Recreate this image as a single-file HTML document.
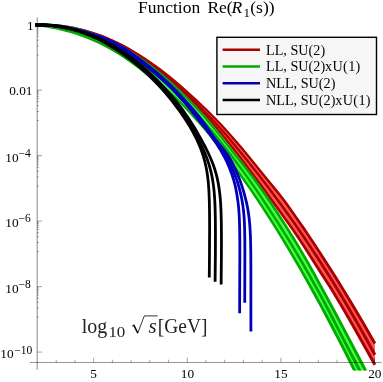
<!DOCTYPE html>
<html><head><meta charset="utf-8">
<style>
html,body{margin:0;padding:0;background:#fff;}
body{width:383px;height:382px;overflow:hidden;font-family:"Liberation Serif",serif;}
svg{display:block;}
text{font-family:"Liberation Serif",serif;fill:#000;}
</style></head><body>
<svg width="383" height="382" viewBox="0 0 383 382">
<rect width="383" height="382" fill="#fff"/>
<defs><filter id="nf" x="0" y="0" width="383" height="382" filterUnits="userSpaceOnUse" color-interpolation-filters="sRGB"><feOffset dx="0" dy="0"/></filter><clipPath id="c"><rect x="30" y="10" width="350" height="370.6" transform="translate(0,-10)"/></clipPath></defs>
<g clip-path="url(#c)" stroke-linejoin="round">
<path d="M35.20,25.05 L40.20,25.06 L45.20,25.21 L50.19,25.49 L55.68,25.94 L60.65,26.48 L65.60,27.18 L70.53,28.02 L75.43,29.00 L80.30,30.10 L85.62,31.43 L90.42,32.77 L95.65,34.40 L100.37,36.02 L105.50,37.94 L110.58,40.00 L115.60,42.21 L120.57,44.57 L125.47,47.11 L130.32,49.81 L135.54,52.91 L140.26,55.83 L145.34,59.10 L150.36,62.48 L155.71,66.24 L160.58,69.81 L165.78,73.78 L170.52,77.52 L175.58,81.68 L180.94,86.31 L191.07,95.39 L196.20,100.10 L201.26,104.84 L206.59,109.99 L211.41,114.76 L216.42,119.87 L221.31,125.00 L226.43,130.56 L231.21,135.88 L235.02,140.24 L241.76,148.16 L246.89,154.32 L252.30,160.92 L264.89,176.67 L274.70,188.64 L278.92,193.88 L282.40,198.33 L286.36,203.60 L291.90,211.35 L297.65,219.55 L303.32,227.80 L308.93,236.09 L314.47,244.42 L320.22,253.20 L326.17,262.44 L332.06,271.71 L337.89,281.03 L343.93,290.80 L350.14,301.03 L362.28,321.58 L374.90,343.61 L374.90,364.78 L366.55,349.69 L355.68,330.33 L342.06,306.72 L333.13,291.75 L329.12,285.34 L321.09,272.99 L304.58,247.13 L298.46,237.88 L293.03,229.89 L287.44,221.95 L281.48,213.63 L270.51,198.33 L264.82,190.54 L248.96,169.06 L243.86,162.26 L238.69,155.51 L233.77,149.21 L219.49,131.41 L214.69,125.61 L210.38,120.56 L205.53,115.11 L200.77,109.97 L195.94,104.85 L191.38,100.13 L186.40,95.09 L181.34,90.12 L176.56,85.58 L171.71,81.13 L166.78,76.78 L161.77,72.54 L158.24,69.69 L156.67,68.44 L151.89,64.78 L147.03,61.25 L142.51,58.14 L137.51,54.87 L132.85,52.00 L128.13,49.24 L123.34,46.61 L118.48,44.12 L113.55,41.75 L109.02,39.72 L103.97,37.62 L99.32,35.84 L94.16,34.03 L89.41,32.53 L84.62,31.19 L79.79,29.97 L74.93,28.85 L70.03,27.85 L65.10,27.01 L60.15,26.31 L55.18,25.77 L50.19,25.37 L45.20,25.09 L40.20,24.95 L35.20,24.95Z" fill="#ff5555" stroke="none"/>
<path d="M35.20,23.75 L40.22,23.76 L45.25,23.92 L50.28,24.21 L56.30,24.72 L61.30,25.29 L66.29,26.01 L71.25,26.88 L76.18,27.88 L81.08,29.01 L85.95,30.24 L90.80,31.60 L96.57,33.42 L101.32,35.07 L106.02,36.84 L110.68,38.74 L116.21,41.17 L120.75,43.33 L126.13,46.11 L130.51,48.56 L135.70,51.63 L140.82,54.80 L145.88,58.07 L150.88,61.43 L156.62,65.48 L161.47,69.05 L166.25,72.70 L170.98,76.43 L176.40,80.90 L181.71,85.50 L191.39,94.19 L197.30,99.62 L202.41,104.42 L207.46,109.29 L212.45,114.22 L217.36,119.23 L222.21,124.31 L226.97,129.45 L231.67,134.66 L235.63,139.19 L242.79,147.56 L247.92,153.71 L253.00,159.90 L265.52,175.51 L275.68,187.86 L280.09,193.32 L283.19,197.26 L287.43,202.87 L292.69,210.20 L298.46,218.38 L304.15,226.62 L309.78,234.90 L315.34,243.22 L321.40,252.42 L327.38,261.66 L333.29,270.95 L339.14,280.27 L344.93,289.64 L351.69,300.76 L363.41,320.57 L376.20,342.87 L373.60,344.36 L360.84,322.07 L349.16,302.27 L342.44,291.17 L336.66,281.82 L330.84,272.50 L324.96,263.21 L319.02,253.96 L313.02,244.76 L307.50,236.43 L301.92,228.15 L296.27,219.91 L290.55,211.72 L285.34,204.40 L281.17,198.83 L277.48,194.12 L273.74,189.44 L263.63,177.03 L251.16,161.40 L246.10,155.21 L241.00,149.07 L233.88,140.70 L229.95,136.20 L225.28,131.00 L220.55,125.86 L215.74,120.79 L210.86,115.80 L205.91,110.87 L199.44,104.65 L195.07,100.56 L189.91,95.85 L180.23,87.18 L174.95,82.63 L169.56,78.21 L164.86,74.51 L160.10,70.88 L155.27,67.35 L149.57,63.34 L144.60,60.02 L139.57,56.79 L134.48,53.66 L129.34,50.62 L124.99,48.20 L119.70,45.48 L115.21,43.35 L109.75,40.97 L105.14,39.10 L99.55,37.03 L94.85,35.44 L90.10,33.96 L85.32,32.63 L79.53,31.20 L74.68,30.12 L69.81,29.17 L64.91,28.36 L60.00,27.69 L55.06,27.17 L50.10,26.77 L45.14,26.49 L40.18,26.35 L35.20,26.35Z" fill="#aa0000" stroke="none"/>
<path d="M35.15,23.81 L39.15,23.64 L44.20,23.59 L49.24,23.70 L54.28,23.97 L59.30,24.41 L63.30,24.90 L68.29,25.65 L73.24,26.58 L78.16,27.65 L84.03,29.10 L88.89,30.44 L93.70,31.94 L97.50,33.25 L103.16,35.37 L107.81,37.28 L113.33,39.74 L117.86,41.94 L123.21,44.75 L127.58,47.24 L132.74,50.36 L137.82,53.60 L142.84,56.94 L147.78,60.38 L152.66,63.91 L158.27,68.13 L163.81,72.45 L169.26,76.87 L173.87,80.74 L179.17,85.35 L184.38,90.05 L189.52,94.83 L192.41,97.62 L195.28,100.43 L199.51,104.69 L205.11,110.42 L210.66,116.21 L215.43,121.34 L220.14,126.54 L225.45,132.55 L230.68,138.62 L235.84,144.74 L241.60,151.67 L247.29,158.66 L252.92,165.70 L258.48,172.79 L269.47,187.06 L274.90,194.25 L281.47,203.09 L287.37,211.17 L293.20,219.31 L298.95,227.51 L304.62,235.77 L310.20,244.08 L316.27,253.26 L322.82,263.34 L328.20,271.77 L334.05,281.10 L340.33,291.34 L346.01,300.78 L355.13,316.32 L358.13,321.52 L364.56,332.84 L369.92,342.45 L376.22,353.94 L373.58,355.38 L367.31,343.90 L361.96,334.29 L355.57,322.99 L352.57,317.80 L343.49,302.28 L337.84,292.86 L332.10,283.48 L325.77,273.31 L320.42,264.87 L313.93,254.79 L307.91,245.60 L302.37,237.28 L296.75,229.03 L291.05,220.83 L285.27,212.68 L279.41,204.59 L272.90,195.74 L267.51,188.55 L256.59,174.25 L251.06,167.17 L245.46,160.14 L239.79,153.16 L234.71,146.99 L228.93,140.11 L223.73,134.05 L218.46,128.05 L213.78,122.86 L209.03,117.74 L203.52,111.96 L197.94,106.24 L193.71,102.00 L190.86,99.21 L187.99,96.45 L182.87,91.70 L177.67,87.04 L172.40,82.47 L167.81,78.63 L162.38,74.24 L156.87,69.96 L151.29,65.78 L146.44,62.28 L141.53,58.88 L136.54,55.58 L131.50,52.38 L126.39,49.30 L122.06,46.84 L116.79,44.09 L112.31,41.93 L106.87,39.52 L102.27,37.64 L96.69,35.56 L92.92,34.28 L88.18,32.81 L83.40,31.49 L77.61,30.09 L72.76,29.04 L67.88,28.14 L62.98,27.41 L59.04,26.94 L54.10,26.52 L49.15,26.26 L44.20,26.17 L39.24,26.23 L35.25,26.40Z" fill="#aa0000" stroke="none"/>
<path d="M35.20,23.65 L40.22,23.65 L45.25,23.81 L50.28,24.09 L55.29,24.50 L60.30,25.05 L65.29,25.76 L70.26,26.62 L75.19,27.63 L80.09,28.76 L84.96,30.00 L89.81,31.37 L94.62,32.89 L99.36,34.56 L104.06,36.35 L109.64,38.67 L114.23,40.74 L118.76,42.92 L124.13,45.69 L128.53,48.11 L133.74,51.16 L138.01,53.80 L143.06,57.10 L148.02,60.53 L152.08,63.48 L156.87,67.14 L159.24,69.02 L162.36,71.55 L167.72,76.09 L172.23,80.07 L177.40,84.83 L182.48,89.67 L187.48,94.60 L192.41,99.59 L196.57,103.92 L201.39,109.02 L206.16,114.16 L211.50,120.16 L215.41,124.72 L220.53,130.90 L234.95,148.84 L239.89,155.15 L244.76,161.51 L250.18,168.71 L265.65,189.61 L271.57,197.68 L282.10,212.29 L288.52,221.23 L293.72,228.59 L299.38,236.86 L305.48,246.03 L322.22,272.13 L330.43,284.70 L334.15,290.65 L343.40,306.13 L356.92,329.52 L367.71,348.71 L376.21,364.05 L373.59,365.51 L365.11,350.16 L354.35,330.99 L340.88,307.61 L332.19,293.02 L327.99,286.25 L319.84,273.67 L303.21,247.52 L297.16,238.35 L291.56,230.10 L286.40,222.73 L280.02,213.78 L269.56,199.13 L263.69,191.05 L248.28,170.12 L243.49,163.72 L238.04,156.57 L233.13,150.27 L218.78,132.33 L213.70,126.17 L209.16,120.87 L204.52,115.66 L199.78,110.53 L194.98,105.45 L190.81,101.14 L185.90,96.18 L180.92,91.28 L175.86,86.48 L170.72,81.77 L166.23,77.81 L160.90,73.32 L157.80,70.81 L155.46,68.97 L150.71,65.35 L146.67,62.43 L141.76,59.04 L136.76,55.79 L132.52,53.18 L127.37,50.18 L123.00,47.79 L117.70,45.07 L113.21,42.92 L108.68,40.89 L103.17,38.62 L98.53,36.86 L93.84,35.22 L89.10,33.73 L84.32,32.39 L79.50,31.18 L74.66,30.08 L69.79,29.09 L64.90,28.25 L59.99,27.57 L55.05,27.04 L50.10,26.65 L45.14,26.38 L40.18,26.24 L35.20,26.25Z" fill="#aa0000" stroke="none"/>
<path d="M35.20,24.70 L40.20,24.62 L45.70,24.71 L50.69,24.96 L55.67,25.38 L60.64,25.96 L65.58,26.71 L70.99,27.71 L75.87,28.79 L80.72,30.02 L86.00,31.55 L90.75,33.09 L95.46,34.77 L100.58,36.78 L105.63,38.93 L110.62,41.24 L115.54,43.68 L120.40,46.26 L125.61,49.21 L130.32,52.04 L135.38,55.25 L140.36,58.59 L145.25,62.04 L150.47,65.91 L155.59,69.88 L160.25,73.65 L165.58,78.16 L170.45,82.44 L175.61,87.15 L180.68,91.96 L185.66,96.81 L190.56,101.73 L195.72,107.13 L200.79,112.68 L205.78,118.35 L210.70,124.12 L215.85,130.36 L220.93,136.65 L225.92,142.96 L233.37,152.45 L241.93,163.25 L247.92,170.94 L253.18,177.87 L255.28,180.74 L258.84,185.67 L264.08,193.10 L269.80,201.42 L273.17,206.43 L275.39,209.78 L280.82,218.19 L286.16,226.65 L291.70,235.57 L297.17,244.53 L301.55,251.81 L304.08,256.11 L308.04,262.99 L313.56,272.92 L335.94,314.30 L342.26,326.14 L348.30,337.58 L361.00,361.85 L374.90,388.68 L374.90,411.88 L362.23,385.88 L350.00,361.32 L344.13,349.76 L338.42,338.66 L332.64,327.59 L326.79,316.56 L321.11,306.00 L315.59,295.91 L310.00,285.85 L304.34,275.84 L298.86,266.29 L293.56,257.21 L287.94,247.75 L282.75,239.18 L277.24,230.22 L271.91,221.74 L266.79,213.72 L261.31,205.33 L256.04,197.41 L250.97,189.96 L245.54,182.14 L240.32,174.79 L235.32,167.90 L230.24,161.06 L225.09,154.29 L219.86,147.57 L214.85,141.32 L209.77,135.13 L204.61,129.01 L199.69,123.34 L194.36,117.37 L189.28,111.85 L184.11,106.41 L179.21,101.47 L174.22,96.66 L169.15,91.98 L163.99,87.42 L159.87,83.91 L154.17,79.36 L147.17,74.05 L139.22,67.94 L133.94,64.03 L128.98,60.52 L123.52,56.78 L118.84,53.68 L113.65,50.47 L108.39,47.52 L103.49,44.96 L98.09,42.32 L93.52,40.24 L87.99,37.90 L83.32,36.08 L77.19,33.89 L72.43,32.35 L67.14,30.81 L61.82,29.43 L56.45,28.21 L51.05,27.15 L46.12,26.33 L40.67,25.58 L35.20,25.00Z" fill="#44ff44" stroke="none"/>
<path d="M35.18,23.40 L40.20,23.32 L46.25,23.45 L51.29,23.73 L56.31,24.17 L61.31,24.78 L66.30,25.55 L71.24,26.48 L76.16,27.58 L81.05,28.82 L85.88,30.23 L90.67,31.77 L95.42,33.46 L101.05,35.65 L105.67,37.63 L111.16,40.16 L115.66,42.40 L121.00,45.23 L126.25,48.20 L130.55,50.80 L135.64,54.02 L140.65,57.38 L145.58,60.85 L151.23,65.03 L155.98,68.73 L160.67,72.52 L166.03,77.04 L171.31,81.69 L176.49,86.43 L181.57,91.26 L186.60,96.16 L191.54,101.15 L196.39,106.23 L201.80,112.15 L206.44,117.42 L211.65,123.52 L216.76,129.69 L221.80,135.92 L226.77,142.19 L242.90,162.59 L249.06,170.48 L253.91,176.86 L256.29,180.10 L259.81,184.97 L265.02,192.32 L270.71,200.56 L274.07,205.55 L276.30,208.88 L281.75,217.28 L287.11,225.74 L292.94,235.08 L298.17,243.61 L302.31,250.47 L305.38,255.64 L308.88,261.71 L314.76,272.21 L337.18,313.53 L343.78,325.88 L349.86,337.38 L362.38,361.31 L376.23,387.99 L373.57,389.37 L359.75,362.68 L347.26,338.75 L341.19,327.25 L334.61,314.91 L312.32,273.55 L306.50,263.07 L303.03,257.01 L300.00,251.85 L295.89,244.99 L290.70,236.46 L284.92,227.11 L279.60,218.66 L274.20,210.26 L272.00,206.93 L268.67,201.95 L263.03,193.71 L257.86,186.36 L254.36,181.50 L252.00,178.29 L247.18,171.92 L241.06,164.03 L224.98,143.61 L220.02,137.33 L215.01,131.11 L209.93,124.95 L204.76,118.87 L200.16,113.62 L194.77,107.74 L189.95,102.70 L185.02,97.75 L180.02,92.88 L174.95,88.08 L169.79,83.38 L164.55,78.78 L159.21,74.29 L154.56,70.54 L149.83,66.88 L144.22,62.74 L139.33,59.32 L134.36,56.01 L129.31,52.82 L125.04,50.26 L119.85,47.32 L114.58,44.54 L110.12,42.33 L104.70,39.86 L100.13,37.91 L94.58,35.76 L89.90,34.11 L85.17,32.60 L80.39,31.22 L75.59,30.01 L70.74,28.95 L64.89,27.88 L59.99,27.16 L55.06,26.61 L50.12,26.21 L45.17,25.99 L40.20,25.91 L35.22,26.00Z" fill="#00aa00" stroke="none"/>
<path d="M35.29,23.53 L41.30,23.96 L46.30,24.44 L52.30,25.21 L57.27,25.98 L62.22,26.89 L68.13,28.16 L73.01,29.36 L77.87,30.69 L83.65,32.47 L88.41,34.08 L94.07,36.19 L98.73,38.07 L104.27,40.50 L108.81,42.64 L114.20,45.36 L118.63,47.73 L123.87,50.72 L128.17,53.31 L133.26,56.54 L138.27,59.89 L143.20,63.36 L148.05,66.94 L153.61,71.24 L158.29,75.04 L163.65,79.57 L168.17,83.55 L173.35,88.29 L177.71,92.44 L182.72,97.36 L187.65,102.36 L193.17,108.18 L197.92,113.34 L203.25,119.33 L207.85,124.63 L213.02,130.76 L218.10,136.96 L223.09,143.23 L232.30,155.08 L237.77,162.24 L243.17,169.46 L248.49,176.74 L253.13,183.27 L258.82,191.51 L263.86,198.98 L269.39,207.33 L274.86,215.71 L280.28,224.12 L287.78,235.96 L290.95,241.06 L296.14,249.63 L303.73,262.59 L312.66,278.23 L318.51,288.73 L324.29,299.26 L328.07,306.32 L332.25,314.30 L342.74,334.78 L360.75,369.37 L376.23,399.38 L373.57,400.76 L358.11,370.73 L340.14,336.12 L329.68,315.64 L325.53,307.66 L321.78,300.61 L316.05,290.08 L310.25,279.59 L301.39,263.94 L293.86,250.98 L288.72,242.43 L285.05,236.48 L278.14,225.48 L272.76,217.07 L267.33,208.67 L261.85,200.32 L256.84,192.86 L251.18,184.63 L246.57,178.11 L241.29,170.85 L235.91,163.64 L230.47,156.49 L221.30,144.63 L216.33,138.38 L211.29,132.19 L206.16,126.07 L200.94,120.04 L196.28,114.83 L191.55,109.69 L186.05,103.92 L181.14,98.95 L176.15,94.07 L171.81,89.95 L166.65,85.25 L162.16,81.31 L156.83,76.82 L152.18,73.06 L146.66,68.81 L141.84,65.27 L136.95,61.84 L131.98,58.53 L126.94,55.34 L122.67,52.77 L117.48,49.83 L113.08,47.49 L107.76,44.82 L103.25,42.71 L97.79,40.33 L93.17,38.48 L87.59,36.41 L82.87,34.83 L77.18,33.09 L72.39,31.79 L67.55,30.62 L61.73,29.38 L56.84,28.49 L51.93,27.74 L46.02,27.00 L40.09,26.45 L35.11,26.12Z" fill="#00aa00" stroke="none"/>
<path d="M35.34,23.71 L41.33,24.37 L46.31,25.06 L51.28,25.89 L57.21,27.07 L62.11,28.19 L67.96,29.73 L72.78,31.15 L77.57,32.70 L83.25,34.73 L87.95,36.55 L94.43,39.31 L99.01,41.41 L104.42,44.07 L108.87,46.41 L114.14,49.37 L119.28,52.54 L124.31,55.87 L130.10,59.86 L135.00,63.35 L139.83,66.93 L147.76,73.04 L154.94,78.49 L161.20,83.54 L165.02,86.80 L170.27,91.47 L174.68,95.55 L179.74,100.42 L184.69,105.41 L190.22,111.23 L194.96,116.39 L200.30,122.37 L205.57,128.42 L210.74,134.55 L215.83,140.74 L220.84,146.99 L225.77,153.30 L231.24,160.47 L236.02,166.90 L241.33,174.19 L246.55,181.53 L251.70,188.92 L256.77,196.37 L262.34,204.70 L267.82,213.07 L273.23,221.50 L278.56,229.97 L283.83,238.48 L289.03,247.04 L294.67,256.49 L300.23,265.99 L305.73,275.53 L311.16,285.11 L317.01,295.60 L322.31,305.24 L328.02,315.81 L334.13,327.30 L339.69,337.94 L345.64,349.51 L351.08,360.21 L363.59,385.28 L376.25,411.22 L373.55,412.54 L360.93,386.59 L348.46,361.54 L343.03,350.84 L337.10,339.28 L331.55,328.65 L325.49,317.16 L319.82,306.60 L314.56,296.94 L308.76,286.45 L303.37,276.87 L297.91,267.33 L292.39,257.83 L286.80,248.37 L281.64,239.82 L276.42,231.30 L271.13,222.83 L265.76,214.40 L260.32,206.02 L254.80,197.71 L249.75,190.27 L244.63,182.88 L239.43,175.55 L234.16,168.27 L229.40,161.85 L223.96,154.70 L219.06,148.39 L214.08,142.15 L209.02,135.97 L203.88,129.86 L198.65,123.83 L193.33,117.88 L188.59,112.75 L183.09,106.97 L178.17,102.03 L173.14,97.20 L168.73,93.15 L163.51,88.52 L159.72,85.29 L153.52,80.31 L146.35,74.89 L138.42,68.81 L133.61,65.25 L128.73,61.79 L122.98,57.85 L117.99,54.57 L112.92,51.45 L107.72,48.54 L103.31,46.24 L97.95,43.62 L93.43,41.55 L87.03,38.85 L82.40,37.07 L76.77,35.07 L72.05,33.55 L66.33,31.90 L61.51,30.66 L56.66,29.56 L50.82,28.41 L45.93,27.60 L40.02,26.82 L35.06,26.29Z" fill="#00aa00" stroke="none"/>
<path d="M35.20,24.84 L40.70,24.92 L46.69,25.24 L51.68,25.67 L57.14,26.31 L62.58,27.14 L68.47,28.27 L73.83,29.51 L79.63,31.03 L84.88,32.59 L90.55,34.47 L96.15,36.60 L101.68,38.94 L107.12,41.46 L112.93,44.39 L118.20,47.25 L123.81,50.53 L128.90,53.71 L134.74,57.59 L140.04,61.35 L145.24,65.25 L150.73,69.61 L155.71,73.79 L160.97,78.42 L166.10,83.19 L171.11,88.09 L176.00,93.11 L180.09,97.52 L181.11,98.63 L185.75,103.92 L190.26,109.35 L194.96,115.24 L198.03,119.20 L204.08,126.53 L206.61,129.66 L208.46,132.07 L210.56,134.97 L213.79,139.61 L216.93,144.31 L219.68,148.64 L220.73,150.39 L222.53,153.47 L224.93,157.91 L226.89,161.97 L227.91,164.24 L228.90,166.52 L230.54,170.67 L232.05,174.87 L233.56,179.59 L234.63,183.41 L235.54,187.26 L236.41,191.63 L237.07,195.55 L237.66,199.48 L238.12,202.94 L238.55,206.91 L238.89,210.89 L239.16,214.87 L239.39,219.36 L239.68,229.35 L239.80,240.35 L239.83,254.85 L239.67,293.85 L239.64,313.30" fill="none" stroke="#0000bb" stroke-width="2.8"/>
<path d="M35.20,24.94 L40.70,24.96 L45.70,25.15 L51.19,25.53 L56.66,26.09 L62.11,26.83 L67.53,27.79 L72.91,28.94 L78.24,30.28 L84.00,31.92 L89.22,33.58 L94.85,35.58 L99.94,37.54 L105.43,39.79 L110.83,42.23 L113.49,43.58 L116.59,45.21 L121.82,48.21 L126.96,51.42 L132.44,55.07 L137.81,58.85 L143.09,62.73 L148.65,67.03 L153.71,71.15 L159.05,75.73 L164.27,80.46 L169.02,84.96 L174.02,89.92 L178.90,94.96 L184.00,100.46 L188.64,105.70 L193.48,111.43 L197.87,116.84 L202.06,122.12 L205.51,126.64 L208.90,131.30 L213.43,137.89 L219.20,145.93 L222.51,150.67 L225.60,155.47 L228.10,159.89 L230.53,164.82 L232.58,169.36 L234.30,173.49 L236.07,178.14 L237.52,182.37 L238.83,186.65 L240.00,190.97 L241.03,195.33 L241.82,199.24 L242.42,202.68 L243.01,206.63 L243.49,210.59 L243.87,214.57 L244.20,219.05 L244.43,223.54 L244.62,228.53 L244.81,239.02 L244.88,252.52 L244.73,302.80" fill="none" stroke="#0000bb" stroke-width="2.8"/>
<path d="M35.20,24.97 L41.20,24.97 L46.70,25.16 L52.69,25.57 L58.66,26.18 L64.11,26.95 L70.02,28.01 L75.89,29.29 L81.70,30.76 L86.97,32.27 L93.13,34.28 L98.73,36.29 L104.26,38.37 L109.71,40.64 L114.62,43.00 L117.27,44.42 L121.22,46.68 L127.24,50.52 L132.74,54.30 L138.53,58.48 L143.81,62.40 L149.77,67.06 L155.21,71.54 L160.53,76.13 L166.10,81.19 L171.55,86.38 L177.22,92.04 L182.40,97.46 L187.79,103.35 L192.72,108.97 L197.79,115.03 L202.33,120.92 L206.29,126.43 L212.78,135.82 L214.61,138.30 L216.53,140.80 L223.27,149.24 L225.90,152.67 L227.13,154.40 L229.18,157.43 L230.49,159.62 L231.93,162.25 L234.38,167.13 L236.43,171.63 L237.20,173.44 L238.51,176.63 L240.25,181.24 L241.71,185.43 L243.05,189.67 L244.30,193.96 L245.45,198.29 L246.51,202.65 L247.43,207.05 L248.13,210.99 L248.65,214.45 L249.15,218.41 L249.55,222.39 L249.91,226.87 L250.19,231.37 L250.40,235.86 L250.60,241.86 L250.80,253.35 L250.89,268.35 L250.90,331.60" fill="none" stroke="#0000bb" stroke-width="2.8"/>
<path d="M35.27,25.10 L39.77,24.99 L44.76,25.07 L49.26,25.33 L54.23,25.83 L58.69,26.46 L63.61,27.34 L68.49,28.43 L73.32,29.70 L78.11,31.16 L82.84,32.78 L87.51,34.57 L92.57,36.72 L97.11,38.82 L102.02,41.29 L106.85,43.92 L111.59,46.70 L116.26,49.62 L121.25,52.95 L126.13,56.43 L130.53,59.74 L135.22,63.48 L140.19,67.67 L144.68,71.65 L149.06,75.74 L153.70,80.30 L157.87,84.61 L162.28,89.39 L166.23,93.90 L170.40,98.90 L174.12,103.60 L178.02,108.80 L181.50,113.70 L184.05,117.43 L186.53,121.22 L188.68,124.63 L191.00,128.52 L192.97,132.03 L194.84,135.58 L196.61,139.18 L198.29,142.83 L199.66,146.06 L201.12,149.79 L202.30,153.09 L203.52,156.91 L204.48,160.28 L205.33,163.68 L206.08,167.10 L206.82,171.03 L207.29,173.99 L207.76,177.46 L208.15,180.94 L208.47,184.43 L208.76,188.41 L208.99,192.41 L209.35,201.90 L209.53,212.40 L209.61,226.40 L209.49,252.90 L209.28,277.60" fill="none" stroke="#000000" stroke-width="2.8"/>
<path d="M35.20,24.91 L40.20,24.89 L45.20,25.06 L49.69,25.37 L54.67,25.90 L59.62,26.61 L64.54,27.52 L69.43,28.60 L74.27,29.86 L79.07,31.27 L83.81,32.83 L88.49,34.55 L93.57,36.62 L98.12,38.67 L103.06,41.08 L107.90,43.66 L112.66,46.39 L117.33,49.27 L121.92,52.28 L126.82,55.71 L131.22,58.99 L135.92,62.69 L140.51,66.52 L145.00,70.48 L149.75,74.89 L154.03,79.07 L158.54,83.73 L162.61,88.12 L166.89,92.99 L171.06,97.97 L174.79,102.66 L178.71,107.84 L182.50,113.12 L185.33,117.25 L188.07,121.43 L190.45,125.25 L193.02,129.54 L195.24,133.45 L197.60,137.86 L199.66,141.88 L201.64,145.95 L203.32,149.61 L205.10,153.77 L206.58,157.52 L207.94,161.30 L209.02,164.64 L210.15,168.50 L211.12,172.38 L211.96,176.30 L212.59,179.74 L213.12,183.20 L213.64,187.16 L214.02,190.64 L214.37,194.63 L214.65,198.62 L214.89,203.11 L215.09,208.11 L215.33,218.60 L215.44,232.10 L215.40,252.10 L215.11,281.70" fill="none" stroke="#000000" stroke-width="2.8"/>
<path d="M35.20,24.92 L40.19,24.83 L44.69,24.92 L49.69,25.21 L54.67,25.67 L59.14,26.25 L64.08,27.08 L68.98,28.10 L73.84,29.29 L79.12,30.79 L83.88,32.30 L88.57,33.97 L93.66,35.98 L98.67,38.20 L103.16,40.36 L108.02,42.89 L113.23,45.81 L117.92,48.65 L122.93,51.89 L127.85,55.28 L132.66,58.81 L137.37,62.48 L141.99,66.27 L146.87,70.51 L151.28,74.54 L155.95,79.02 L160.50,83.63 L164.94,88.35 L169.26,93.18 L173.47,98.11 L177.56,103.16 L181.52,108.30 L184.44,112.33 L185.59,113.94 L188.36,118.04 L191.05,122.19 L193.92,126.81 L196.46,131.08 L198.94,135.40 L201.38,139.77 L203.79,144.21 L205.90,148.25 L207.92,152.34 L209.85,156.47 L211.45,160.20 L213.12,164.43 L214.46,168.23 L215.91,173.03 L216.79,176.42 L217.66,180.33 L218.33,183.76 L218.91,187.21 L219.40,190.68 L219.88,194.65 L220.26,198.63 L220.56,202.62 L220.83,207.11 L221.05,212.11 L221.32,222.60 L221.45,236.10 L221.42,254.60 L221.15,284.40" fill="none" stroke="#000000" stroke-width="2.8"/>
</g>
<g>
<line x1="37.15" y1="17.5" x2="37.15" y2="369.8" stroke="#000" stroke-opacity="0.52" stroke-width="0.9"/>
<line x1="30" y1="362.5" x2="381.7" y2="362.5" stroke="#000" stroke-opacity="0.52" stroke-width="0.8"/>
<line x1="56.22" y1="359.7" x2="56.22" y2="362.5" stroke="#000" stroke-opacity="0.52" stroke-width="0.7"/>
<line x1="74.94" y1="359.7" x2="74.94" y2="362.5" stroke="#000" stroke-opacity="0.52" stroke-width="0.7"/>
<line x1="93.66" y1="357.7" x2="93.66" y2="362.5" stroke="#000" stroke-opacity="0.52" stroke-width="0.7"/>
<line x1="112.38" y1="359.7" x2="112.38" y2="362.5" stroke="#000" stroke-opacity="0.52" stroke-width="0.7"/>
<line x1="131.10" y1="359.7" x2="131.10" y2="362.5" stroke="#000" stroke-opacity="0.52" stroke-width="0.7"/>
<line x1="149.82" y1="359.7" x2="149.82" y2="362.5" stroke="#000" stroke-opacity="0.52" stroke-width="0.7"/>
<line x1="168.54" y1="359.7" x2="168.54" y2="362.5" stroke="#000" stroke-opacity="0.52" stroke-width="0.7"/>
<line x1="187.26" y1="357.7" x2="187.26" y2="362.5" stroke="#000" stroke-opacity="0.52" stroke-width="0.7"/>
<line x1="205.98" y1="359.7" x2="205.98" y2="362.5" stroke="#000" stroke-opacity="0.52" stroke-width="0.7"/>
<line x1="224.70" y1="359.7" x2="224.70" y2="362.5" stroke="#000" stroke-opacity="0.52" stroke-width="0.7"/>
<line x1="243.42" y1="359.7" x2="243.42" y2="362.5" stroke="#000" stroke-opacity="0.52" stroke-width="0.7"/>
<line x1="262.14" y1="359.7" x2="262.14" y2="362.5" stroke="#000" stroke-opacity="0.52" stroke-width="0.7"/>
<line x1="280.86" y1="357.7" x2="280.86" y2="362.5" stroke="#000" stroke-opacity="0.52" stroke-width="0.7"/>
<line x1="299.58" y1="359.7" x2="299.58" y2="362.5" stroke="#000" stroke-opacity="0.52" stroke-width="0.7"/>
<line x1="318.30" y1="359.7" x2="318.30" y2="362.5" stroke="#000" stroke-opacity="0.52" stroke-width="0.7"/>
<line x1="337.02" y1="359.7" x2="337.02" y2="362.5" stroke="#000" stroke-opacity="0.52" stroke-width="0.7"/>
<line x1="355.74" y1="359.7" x2="355.74" y2="362.5" stroke="#000" stroke-opacity="0.52" stroke-width="0.7"/>
<line x1="374.46" y1="357.7" x2="374.46" y2="362.5" stroke="#000" stroke-opacity="0.52" stroke-width="0.7"/>
<line x1="37.15" y1="24.60" x2="42.1" y2="24.60" stroke="#000" stroke-opacity="0.52" stroke-width="0.7"/>
<line x1="37.15" y1="25.80" x2="38.6" y2="25.80" stroke="#000" stroke-opacity="0.52" stroke-width="0.9"/>
<line x1="37.15" y1="27.20" x2="38.6" y2="27.20" stroke="#000" stroke-opacity="0.52" stroke-width="0.9"/>
<line x1="37.15" y1="28.90" x2="38.6" y2="28.90" stroke="#000" stroke-opacity="0.52" stroke-width="0.9"/>
<line x1="37.15" y1="30.90" x2="38.6" y2="30.90" stroke="#000" stroke-opacity="0.52" stroke-width="0.9"/>
<line x1="37.15" y1="33.20" x2="38.6" y2="33.20" stroke="#000" stroke-opacity="0.52" stroke-width="0.9"/>
<line x1="37.15" y1="36.20" x2="38.6" y2="36.20" stroke="#000" stroke-opacity="0.52" stroke-width="0.9"/>
<line x1="37.15" y1="40.20" x2="38.6" y2="40.20" stroke="#000" stroke-opacity="0.52" stroke-width="0.9"/>
<line x1="37.15" y1="46.00" x2="38.6" y2="46.00" stroke="#000" stroke-opacity="0.52" stroke-width="0.9"/>
<line x1="37.15" y1="55.00" x2="38.6" y2="55.00" stroke="#000" stroke-opacity="0.52" stroke-width="0.9"/>
<line x1="37.15" y1="90.10" x2="42.1" y2="90.10" stroke="#000" stroke-opacity="0.52" stroke-width="0.7"/>
<line x1="37.15" y1="91.30" x2="38.6" y2="91.30" stroke="#000" stroke-opacity="0.52" stroke-width="0.9"/>
<line x1="37.15" y1="92.70" x2="38.6" y2="92.70" stroke="#000" stroke-opacity="0.52" stroke-width="0.9"/>
<line x1="37.15" y1="94.40" x2="38.6" y2="94.40" stroke="#000" stroke-opacity="0.52" stroke-width="0.9"/>
<line x1="37.15" y1="96.40" x2="38.6" y2="96.40" stroke="#000" stroke-opacity="0.52" stroke-width="0.9"/>
<line x1="37.15" y1="98.70" x2="38.6" y2="98.70" stroke="#000" stroke-opacity="0.52" stroke-width="0.9"/>
<line x1="37.15" y1="101.70" x2="38.6" y2="101.70" stroke="#000" stroke-opacity="0.52" stroke-width="0.9"/>
<line x1="37.15" y1="105.70" x2="38.6" y2="105.70" stroke="#000" stroke-opacity="0.52" stroke-width="0.9"/>
<line x1="37.15" y1="111.50" x2="38.6" y2="111.50" stroke="#000" stroke-opacity="0.52" stroke-width="0.9"/>
<line x1="37.15" y1="120.50" x2="38.6" y2="120.50" stroke="#000" stroke-opacity="0.52" stroke-width="0.9"/>
<line x1="37.15" y1="155.60" x2="42.1" y2="155.60" stroke="#000" stroke-opacity="0.52" stroke-width="0.7"/>
<line x1="37.15" y1="156.80" x2="38.6" y2="156.80" stroke="#000" stroke-opacity="0.52" stroke-width="0.9"/>
<line x1="37.15" y1="158.20" x2="38.6" y2="158.20" stroke="#000" stroke-opacity="0.52" stroke-width="0.9"/>
<line x1="37.15" y1="159.90" x2="38.6" y2="159.90" stroke="#000" stroke-opacity="0.52" stroke-width="0.9"/>
<line x1="37.15" y1="161.90" x2="38.6" y2="161.90" stroke="#000" stroke-opacity="0.52" stroke-width="0.9"/>
<line x1="37.15" y1="164.20" x2="38.6" y2="164.20" stroke="#000" stroke-opacity="0.52" stroke-width="0.9"/>
<line x1="37.15" y1="167.20" x2="38.6" y2="167.20" stroke="#000" stroke-opacity="0.52" stroke-width="0.9"/>
<line x1="37.15" y1="171.20" x2="38.6" y2="171.20" stroke="#000" stroke-opacity="0.52" stroke-width="0.9"/>
<line x1="37.15" y1="177.00" x2="38.6" y2="177.00" stroke="#000" stroke-opacity="0.52" stroke-width="0.9"/>
<line x1="37.15" y1="186.00" x2="38.6" y2="186.00" stroke="#000" stroke-opacity="0.52" stroke-width="0.9"/>
<line x1="37.15" y1="221.10" x2="42.1" y2="221.10" stroke="#000" stroke-opacity="0.52" stroke-width="0.7"/>
<line x1="37.15" y1="222.30" x2="38.6" y2="222.30" stroke="#000" stroke-opacity="0.52" stroke-width="0.9"/>
<line x1="37.15" y1="223.70" x2="38.6" y2="223.70" stroke="#000" stroke-opacity="0.52" stroke-width="0.9"/>
<line x1="37.15" y1="225.40" x2="38.6" y2="225.40" stroke="#000" stroke-opacity="0.52" stroke-width="0.9"/>
<line x1="37.15" y1="227.40" x2="38.6" y2="227.40" stroke="#000" stroke-opacity="0.52" stroke-width="0.9"/>
<line x1="37.15" y1="229.70" x2="38.6" y2="229.70" stroke="#000" stroke-opacity="0.52" stroke-width="0.9"/>
<line x1="37.15" y1="232.70" x2="38.6" y2="232.70" stroke="#000" stroke-opacity="0.52" stroke-width="0.9"/>
<line x1="37.15" y1="236.70" x2="38.6" y2="236.70" stroke="#000" stroke-opacity="0.52" stroke-width="0.9"/>
<line x1="37.15" y1="242.50" x2="38.6" y2="242.50" stroke="#000" stroke-opacity="0.52" stroke-width="0.9"/>
<line x1="37.15" y1="251.50" x2="38.6" y2="251.50" stroke="#000" stroke-opacity="0.52" stroke-width="0.9"/>
<line x1="37.15" y1="286.60" x2="42.1" y2="286.60" stroke="#000" stroke-opacity="0.52" stroke-width="0.7"/>
<line x1="37.15" y1="287.80" x2="38.6" y2="287.80" stroke="#000" stroke-opacity="0.52" stroke-width="0.9"/>
<line x1="37.15" y1="289.20" x2="38.6" y2="289.20" stroke="#000" stroke-opacity="0.52" stroke-width="0.9"/>
<line x1="37.15" y1="290.90" x2="38.6" y2="290.90" stroke="#000" stroke-opacity="0.52" stroke-width="0.9"/>
<line x1="37.15" y1="292.90" x2="38.6" y2="292.90" stroke="#000" stroke-opacity="0.52" stroke-width="0.9"/>
<line x1="37.15" y1="295.20" x2="38.6" y2="295.20" stroke="#000" stroke-opacity="0.52" stroke-width="0.9"/>
<line x1="37.15" y1="298.20" x2="38.6" y2="298.20" stroke="#000" stroke-opacity="0.52" stroke-width="0.9"/>
<line x1="37.15" y1="302.20" x2="38.6" y2="302.20" stroke="#000" stroke-opacity="0.52" stroke-width="0.9"/>
<line x1="37.15" y1="308.00" x2="38.6" y2="308.00" stroke="#000" stroke-opacity="0.52" stroke-width="0.9"/>
<line x1="37.15" y1="317.00" x2="38.6" y2="317.00" stroke="#000" stroke-opacity="0.52" stroke-width="0.9"/>
<line x1="37.15" y1="352.10" x2="42.1" y2="352.10" stroke="#000" stroke-opacity="0.52" stroke-width="0.7"/>
</g>
<g filter="url(#nf)">
<!-- title -->
<text x="138.0" y="13.2" font-size="17.5">Function</text>
<text x="207.4" y="13.2" font-size="17.5">Re(</text>
<text x="231.6" y="13.2" font-size="17.5" font-style="italic">R</text>
<text x="243.5" y="16.8" font-size="13">1</text>
<text x="250.3" y="13.2" font-size="17.5">(s))</text>
<!-- y tick labels -->
<text x="33.6" y="29.8" font-size="13.3" text-anchor="end">1</text>
<text x="32.5" y="95.2" font-size="13.3" text-anchor="end">0.01</text>
<text x="18.6" y="161.8" font-size="13.3" text-anchor="end">10</text><text x="18.5" y="156.9" font-size="11.5">−4</text>
<text x="18.6" y="227.3" font-size="13.3" text-anchor="end">10</text><text x="18.5" y="222.4" font-size="11.5">−6</text>
<text x="18.6" y="292.8" font-size="13.3" text-anchor="end">10</text><text x="18.5" y="287.9" font-size="11.5">−8</text>
<text x="13.6" y="358.3" font-size="13.3" text-anchor="end">10</text><text x="14.2" y="354.0" font-size="11.5">−10</text>
<!-- x tick labels -->
<text x="93.7" y="377.5" font-size="13.3" text-anchor="middle">5</text>
<text x="187.4" y="377.5" font-size="13.3" text-anchor="middle">10</text>
<text x="281" y="377.5" font-size="13.3" text-anchor="middle">15</text>
<text x="374.8" y="377.5" font-size="13.3" text-anchor="middle">20</text>
<!-- axis label -->
<text transform="translate(81.7,332.5) scale(0.95,1)" font-size="21" style="fill:#222">log</text>
<text transform="translate(108.4,337.4) scale(1.13,1)" font-size="15" style="fill:#222">10</text>
<path d="M131.9,326.3 L133.9,324.9" fill="none" stroke="#000" stroke-width="0.8"/>
<path d="M133.7,324.9 L137.7,333.0" fill="none" stroke="#000" stroke-width="1.5"/>
<path d="M137.6,333.4 L144.3,315.9 L157.7,315.9" fill="none" stroke="#000" stroke-width="0.8"/>
<text x="148.6" y="332.5" font-size="21" font-style="italic" style="fill:#222">s</text>
<text transform="translate(157.8,332.5) scale(0.925,1)" font-size="21" style="fill:#222">[GeV]</text>
</g>
<!-- legend -->
<rect x="216.9" y="37.3" width="159.6" height="77.2" fill="#f6f6f6" stroke="#000" stroke-width="1.4"/>
<line x1="222.6" y1="49.8" x2="260" y2="49.8" stroke="#aa0000" stroke-width="2.6"/>
<line x1="222.6" y1="66.5" x2="260" y2="66.5" stroke="#00aa00" stroke-width="2.6"/>
<line x1="222.6" y1="83.3" x2="260" y2="83.3" stroke="#0000bb" stroke-width="2.6"/>
<line x1="222.6" y1="100" x2="260" y2="100" stroke="#000000" stroke-width="2.6"/>
<g filter="url(#nf)">
<text x="266" y="54.8" font-size="14.2">LL, SU(2)</text>
<text x="266" y="71.3" font-size="14.2">LL, SU(2)<tspan letter-spacing="0.32">xU(1)</tspan></text>
<text x="266" y="88" font-size="14.2">NLL, SU(2)</text>
<text x="266" y="104.7" font-size="14.2">NLL, SU(2)<tspan letter-spacing="0.32">xU(1)</tspan></text>
</g>
</svg>
</body></html>
